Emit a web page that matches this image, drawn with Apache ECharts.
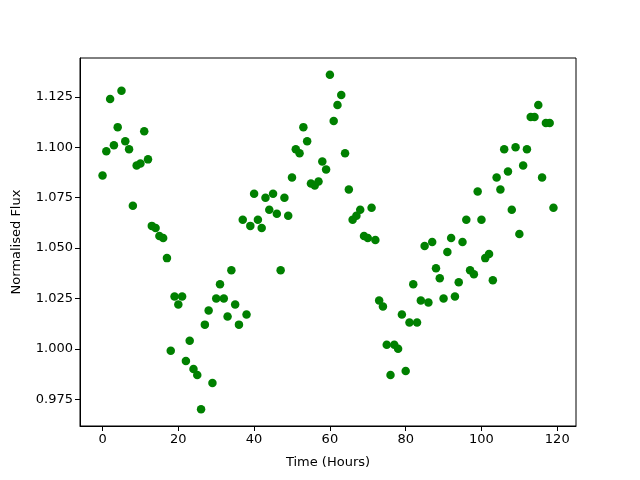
<!DOCTYPE html>
<html><head><meta charset="utf-8">
<script src="https://cdn.jsdelivr.net/npm/echarts@6/dist/echarts.min.js"></script>
<style>html,body{margin:0;padding:0;background:#fff}#c{width:640px;height:480px}</style>
</head><body><div id="c"></div>
<script>
const hours = [];
for (let i = 0; i < 120; i++) hours.push(i);
const flux = [
1.086,1.098,1.124,1.101,1.110,1.128,1.103,1.099,1.071,1.091,
1.092,1.108,1.094,1.061,1.060,1.056,1.055,1.045,0.999,1.026,
1.022,1.026,0.994,1.004,0.990,0.987,0.970,1.012,1.019,0.983,
1.025,1.032,1.025,1.016,1.039,1.022,1.012,1.064,1.017,1.061,
1.077,1.064,1.060,1.075,1.069,1.077,1.067,1.039,1.075,1.066,
1.085,1.099,1.097,1.110,1.103,1.082,1.081,1.083,1.093,1.089,
1.136,1.113,1.121,1.126,1.097,1.079,1.064,1.066,1.069,1.056,
1.055,1.070,1.054,1.024,1.021,1.002,0.987,1.002,1.000,1.017,
0.989,1.013,1.032,1.013,1.024,1.051,1.023,1.053,1.040,1.035,
1.025,1.048,1.055,1.026,1.033,1.053,1.064,1.039,1.037,1.078,
1.064,1.045,1.047,1.034,1.085,1.079,1.099,1.088,1.069,1.100,
1.057,1.091,1.099,1.115,1.115,1.121,1.085,1.112,1.112,1.070
];
const xTicks = [0,20,40,60,80,100,120];
const yTicks = [0.975,1.000,1.025,1.050,1.075,1.100,1.125];
const xTitle = 'Time (Hours)';
const yTitle = 'Normalised Flux';

const font = 'DejaVu Sans';
const chart = echarts.init(document.getElementById('c'), null, {renderer:'canvas'});
const axisCommon = {
  axisLine:{show:true,onZero:false,lineStyle:{color:'#000',width:1}},
  axisTick:{show:true,inside:false,length:5,lineStyle:{color:'#000'}},
  splitLine:{show:false},
  nameTextStyle:{fontFamily:font,fontSize:13,color:'#000'}
};
chart.setOption({
  animation:false,
  backgroundColor:'#fff',
  grid:{left:80,right:64,top:58,bottom:54,show:true,borderColor:'#000',borderWidth:1,backgroundColor:'transparent'},
  xAxis:Object.assign({}, axisCommon, {
    type:'value', min:-5.95, max:124.95,
    name:xTitle, nameLocation:'middle', nameGap:30,
    axisTick:Object.assign({}, axisCommon.axisTick, {customValues:xTicks}),
    axisLabel:{customValues:xTicks, fontFamily:font, fontSize:13, color:'#000', margin:7}
  }),
  yAxis:Object.assign({}, axisCommon, {
    type:'value', min:0.9617, max:1.1443,
    name:yTitle, nameLocation:'middle', nameGap:57,
    axisTick:Object.assign({}, axisCommon.axisTick, {customValues:yTicks}),
    axisLabel:{customValues:yTicks, fontFamily:font, fontSize:13, color:'#000', margin:7,
      formatter:v=>Number(v).toFixed(3)}
  }),
  series:[{
    type:'scatter',
    data:hours.map((h,i)=>[h,flux[i]]),
    symbol:'circle', symbolSize:8.5,
    itemStyle:{color:'#008000', opacity:1},
    emphasis:{disabled:true}
  }]
});
</script></body></html>
